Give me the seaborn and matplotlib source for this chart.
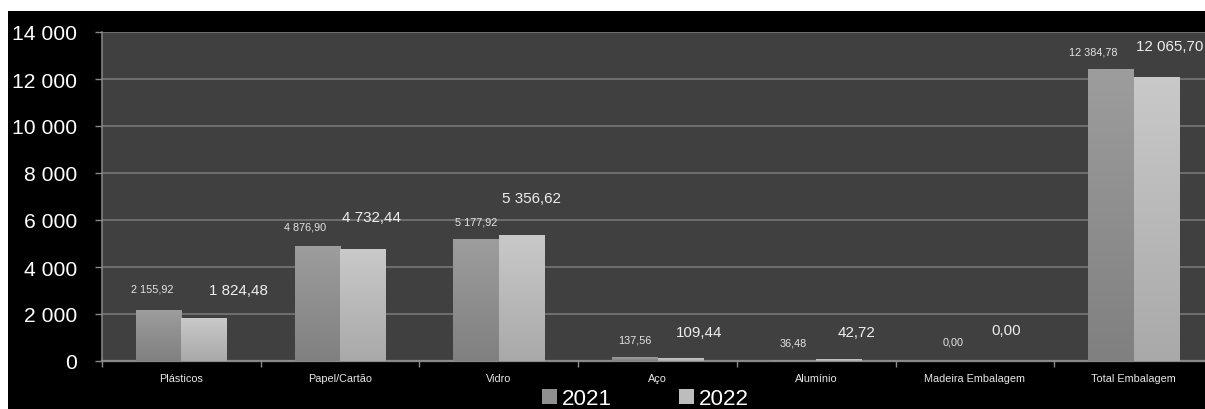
import numpy as np
import pandas as pd
import matplotlib
matplotlib.use("Agg")
import matplotlib.pyplot as plt
from matplotlib import font_manager
from matplotlib.patches import Patch, Rectangle
from matplotlib.colors import LinearSegmentedColormap
from matplotlib.ticker import FuncFormatter, FixedLocator
import seaborn as sns

# Packaging waste by material (tonnes)
categories = ["Plásticos", "Papel/Cartão", "Vidro", "Aço", "Alumínio",
              "Madeira Embalagem", "Total Embalagem"]
years = ["2021", "2022"]
values_2021 = [2155.92, 4876.90, 5177.92, 137.56, 36.48, 0.00, 12384.78]
values_2022 = [1824.48, 4732.44, 5356.62, 109.44, 42.72, 0.00, 12065.70]
y_ticks = [0, 2000, 4000, 6000, 8000, 10000, 12000, 14000]

# Hand-placed value labels: offsets in pixels from the top centre of each bar
label_dx = {"2021": [-6, -12, 0, 0, 0, 1, -18], "2022": [34, 9, 10, 19, 18, 9, 13]}
label_dy = {"2021": [22, 20, 18, 18, 18, 19, 18], "2022": [28, 33, 37, 26, 28, 31, 31]}

df = pd.DataFrame({
    "material": categories * 2,
    "ano": [years[0]] * len(categories) + [years[1]] * len(categories),
    "valor": values_2021 + values_2022,
})

sns.set_theme(style="dark")

# Prefer a narrow sans; otherwise fall back to Liberation Sans at a smaller size
installed = {f.name for f in font_manager.fontManager.ttflist}
if "Liberation Sans Narrow" in installed:
    font, k = "Liberation Sans Narrow", 1.0
else:
    font, k = "Liberation Sans", 0.87
plt.rcParams["font.family"] = [font, "DejaVu Sans"]

W, H = 1205, 410
fig = plt.figure(figsize=(W / 100, H / 100), dpi=100, facecolor="white")

# black panel behind the chart
panel = Rectangle((8 / W, 0), 1 - 8 / W, 1 - 12 / H, transform=fig.transFigure,
                  facecolor="black", edgecolor="none", zorder=-5)
fig.add_artist(panel)

ax = fig.add_axes([102 / W, 1 - 362 / H, (1213 - 102) / W, (362 - 33) / H])
ax.set_zorder(1)
ax.set_facecolor("#404040")

pal = {"2021": "#8f8f8f", "2022": "#bababa"}
sns.barplot(data=df, x="material", y="valor", hue="ano", order=categories,
            hue_order=years, palette=pal, width=0.573, gap=0, ax=ax,
            legend=False, saturation=1, edgecolor="none", linewidth=0, zorder=3)

gradients = {
    "2021": LinearSegmentedColormap.from_list("g21", ["#808080", "#9d9d9d"]),
    "2022": LinearSegmentedColormap.from_list("g22", ["#a9a9a9", "#c9c9c9"]),
}
grad = np.linspace(0, 1, 256).reshape(-1, 1)


def fmt(v):
    return f"{v:,.2f}".replace(",", " ").replace(".", ",")


for year, container, vals in zip(years, ax.containers, [values_2021, values_2022]):
    for i, (bar, v) in enumerate(zip(container, vals)):
        x0, w = bar.get_x(), bar.get_width()
        h = bar.get_height()
        if h > 0:
            ax.imshow(grad, extent=(x0, x0 + w, 0, h), origin="lower",
                      aspect="auto", cmap=gradients[year], zorder=3.5,
                      interpolation="bilinear")
        big = year == "2022"
        ax.annotate(fmt(v), xy=(x0 + w / 2, h),
                    xytext=(label_dx[year][i], label_dy[year][i]),
                    textcoords="offset pixels", ha="center", va="center",
                    color="#eeeeee" if big else "#e4e4e4",
                    fontsize=(12.5 if big else 9) * k, zorder=6,
                    annotation_clip=False)

ax.set_xlim(-0.5, len(categories) - 0.5)
ax.set_ylim(0, 14000)
ax.yaxis.set_major_locator(FixedLocator(y_ticks))
ax.yaxis.set_major_formatter(FuncFormatter(lambda v, p: f"{int(v):,}".replace(",", " ")))
ax.set_xlabel("")
ax.set_ylabel("")

ax.grid(axis="y", color="#7c7c7c", linewidth=1.1, zorder=1)
ax.grid(axis="x", visible=False)
ax.set_axisbelow(True)

for side in ["right", "top"]:
    ax.spines[side].set_visible(False)
ax.spines["left"].set_color("#8a8a8a")
ax.spines["left"].set_linewidth(1.1)
ax.spines["bottom"].set_color("#8a8a8a")
ax.spines["bottom"].set_linewidth(1.6)

ax.tick_params(axis="y", colors="#8a8a8a", labelcolor="white", labelsize=17.5 * k,
               length=5, width=1, direction="out", pad=13, left=True)
ax.tick_params(axis="x", which="major", length=0, labelsize=9 * k,
               labelcolor="#e8e8e8", pad=9)
ax.set_xticks(np.arange(-0.5, len(categories) - 0.4, 1), minor=True)
ax.tick_params(axis="x", which="minor", colors="#8a8a8a", length=4, width=1,
               direction="out", bottom=True)

handles = [Patch(facecolor="#909090", edgecolor="none", label=years[0]),
           Patch(facecolor="#bdbdbd", edgecolor="none", label=years[1])]
fig.legend(handles=handles, loc="center", bbox_to_anchor=(645 / W, 1 - 400 / H),
           ncol=2, frameon=False, fontsize=18.5 * k, labelcolor="white",
           handlelength=0.6 / k, handleheight=0.6 / k, handletextpad=0.2,
           columnspacing=3.0, borderpad=0, borderaxespad=0)

fig.savefig("out.png", dpi=100, facecolor="white")
